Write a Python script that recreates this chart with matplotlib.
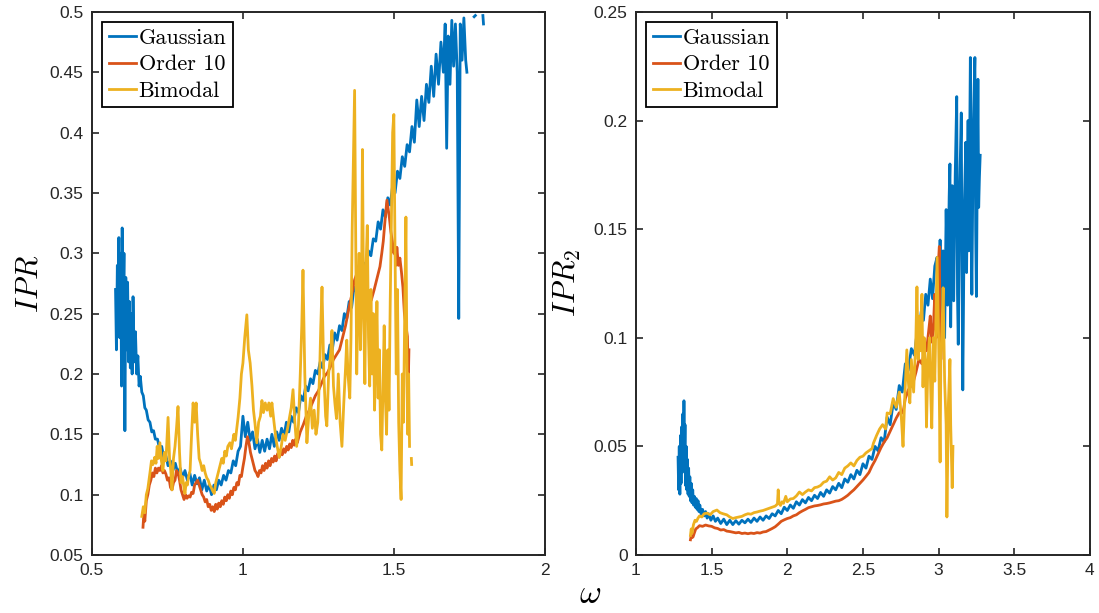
import numpy as np
import matplotlib
matplotlib.use('Agg')
import matplotlib.pyplot as plt

# ---- left panel (IPR) ----
gauss_l_x = [0.578, 0.581, 0.584, 0.586, 0.589, 0.592, 0.595, 0.598, 0.600, 0.603, 0.606, 0.609,
             0.612, 0.615, 0.618, 0.621, 0.624, 0.627, 0.630, 0.633, 0.636, 0.640, 0.644, 0.648,
             0.652, 0.656, 0.660, 0.665, 0.670, 0.675, 0.680, 0.686, 0.692, 0.698, 0.704, 0.710,
             0.717, 0.724, 0.731, 0.738, 0.745, 0.752, 0.760, 0.768, 0.776, 0.784, 0.792, 0.800,
             0.808, 0.816, 0.824, 0.832, 0.840, 0.848, 0.856, 0.864, 0.872, 0.880, 0.888, 0.896,
             0.904, 0.912, 0.920, 0.928, 0.936, 0.944, 0.952, 0.960, 0.968, 0.976, 0.984, 0.992,
             1.000, 1.008, 1.016, 1.024, 1.032, 1.040, 1.048, 1.056, 1.064, 1.072, 1.080, 1.088,
             1.096, 1.104, 1.112, 1.120, 1.128, 1.136, 1.144, 1.152, 1.160, 1.168, 1.176, 1.184,
             1.192, 1.200, 1.208, 1.216, 1.224, 1.232, 1.240, 1.248, 1.256, 1.264, 1.272, 1.280,
             1.288, 1.296, 1.304, 1.312, 1.320, 1.328, 1.336, 1.344, 1.352, 1.360, 1.368, 1.376,
             1.384, 1.392, 1.400, 1.408, 1.416, 1.424, 1.432, 1.440, 1.448, 1.456, 1.464, 1.472,
             1.480, 1.488, 1.496, 1.504, 1.512, 1.520, 1.528, 1.536, 1.544, 1.552, 1.560, 1.568,
             1.576, 1.584, 1.592, 1.600, 1.608, 1.616, 1.624, 1.632, 1.640, 1.648, 1.656, 1.664,
             1.670, 1.675, 1.680, 1.686, 1.692, 1.698, 1.704, 1.710, 1.715, 1.720, 1.726, 1.732,
             1.738, 1.742, 1.755, 1.766, 1.770, 1.780, 1.795, 1.797]
gauss_l_y = [0.270, 0.220, 0.290, 0.240, 0.313, 0.230, 0.300, 0.190, 0.321, 0.250, 0.300, 0.153,
             0.280, 0.220, 0.276, 0.210, 0.260, 0.205, 0.250, 0.200, 0.264, 0.210, 0.235, 0.200,
             0.215, 0.190, 0.198, 0.185, 0.182, 0.172, 0.170, 0.162, 0.160, 0.152, 0.153, 0.146,
             0.146, 0.138, 0.140, 0.130, 0.132, 0.124, 0.128, 0.120, 0.126, 0.118, 0.122, 0.114,
             0.120, 0.112, 0.118, 0.108, 0.116, 0.109, 0.114, 0.104, 0.112, 0.103, 0.108, 0.100,
             0.108, 0.104, 0.112, 0.108, 0.116, 0.112, 0.120, 0.118, 0.128, 0.124, 0.136, 0.140,
             0.165, 0.148, 0.160, 0.145, 0.152, 0.138, 0.146, 0.135, 0.145, 0.136, 0.146, 0.138,
             0.150, 0.140, 0.152, 0.145, 0.155, 0.148, 0.160, 0.152, 0.165, 0.160, 0.172, 0.168,
             0.182, 0.178, 0.190, 0.186, 0.196, 0.192, 0.203, 0.200, 0.210, 0.205, 0.216, 0.212,
             0.224, 0.220, 0.234, 0.228, 0.240, 0.236, 0.250, 0.246, 0.260, 0.255, 0.272, 0.268,
             0.282, 0.278, 0.292, 0.288, 0.302, 0.298, 0.312, 0.310, 0.326, 0.320, 0.336, 0.330,
             0.346, 0.340, 0.356, 0.350, 0.368, 0.362, 0.380, 0.372, 0.390, 0.384, 0.405, 0.392,
             0.427, 0.405, 0.430, 0.410, 0.440, 0.425, 0.455, 0.430, 0.465, 0.440, 0.475, 0.450,
             0.490, 0.387, 0.480, 0.440, 0.493, 0.455, 0.490, 0.450, 0.246, 0.490, 0.460, 0.495,
             0.460, 0.450, np.nan, 0.496, 0.497, np.nan, 0.497, 0.490]

order_l_x = [0.669, 0.672, 0.675, 0.680, 0.685, 0.690, 0.695, 0.700, 0.705, 0.710, 0.715, 0.720,
             0.725, 0.730, 0.735, 0.740, 0.745, 0.750, 0.755, 0.760, 0.765, 0.770, 0.775, 0.780,
             0.785, 0.790, 0.795, 0.800, 0.805, 0.810, 0.815, 0.820, 0.825, 0.830, 0.835, 0.840,
             0.845, 0.850, 0.855, 0.860, 0.865, 0.870, 0.875, 0.880, 0.885, 0.890, 0.895, 0.900,
             0.905, 0.910, 0.915, 0.920, 0.925, 0.930, 0.935, 0.940, 0.945, 0.950, 0.955, 0.960,
             0.965, 0.970, 0.975, 0.980, 0.985, 0.990, 0.995, 1.000, 1.005, 1.010, 1.015, 1.020,
             1.025, 1.030, 1.035, 1.040, 1.045, 1.050, 1.055, 1.060, 1.065, 1.070, 1.075, 1.080,
             1.085, 1.090, 1.095, 1.100, 1.105, 1.110, 1.115, 1.120, 1.125, 1.130, 1.135, 1.140,
             1.145, 1.150, 1.155, 1.160, 1.165, 1.170, 1.175, 1.180, 1.190, 1.200, 1.210, 1.220,
             1.230, 1.240, 1.250, 1.260, 1.270, 1.280, 1.290, 1.300, 1.310, 1.320, 1.330, 1.340,
             1.350, 1.360, 1.370, 1.380, 1.387, 1.395, 1.405, 1.415, 1.425, 1.435, 1.445, 1.454,
             1.460, 1.465, 1.470, 1.477, 1.485, 1.490, 1.495, 1.500, 1.503, 1.507, 1.510, 1.515,
             1.520, 1.525, 1.530, 1.535, 1.540, 1.545, 1.548, 1.550]
order_l_y = [0.073, 0.085, 0.078, 0.095, 0.100, 0.108, 0.112, 0.118, 0.115, 0.122, 0.118, 0.122,
             0.120, 0.124, 0.118, 0.120, 0.117, 0.112, 0.114, 0.106, 0.104, 0.110, 0.112, 0.120,
             0.118, 0.112, 0.104, 0.100, 0.096, 0.100, 0.097, 0.099, 0.098, 0.102, 0.101, 0.108,
             0.110, 0.112, 0.108, 0.104, 0.100, 0.098, 0.094, 0.096, 0.090, 0.092, 0.087, 0.090,
             0.086, 0.092, 0.088, 0.093, 0.090, 0.095, 0.092, 0.098, 0.095, 0.100, 0.097, 0.103,
             0.100, 0.106, 0.104, 0.110, 0.108, 0.116, 0.115, 0.123, 0.130, 0.140, 0.148, 0.143,
             0.135, 0.130, 0.125, 0.120, 0.118, 0.115, 0.120, 0.118, 0.124, 0.120, 0.126, 0.122,
             0.128, 0.124, 0.130, 0.127, 0.132, 0.128, 0.134, 0.131, 0.137, 0.133, 0.138, 0.135,
             0.140, 0.137, 0.142, 0.139, 0.145, 0.141, 0.146, 0.143, 0.152, 0.158, 0.165, 0.170,
             0.176, 0.182, 0.186, 0.192, 0.198, 0.201, 0.206, 0.212, 0.216, 0.220, 0.230, 0.240,
             0.253, 0.265, 0.278, 0.285, 0.292, 0.275, 0.262, 0.268, 0.261, 0.270, 0.280, 0.289,
             0.300, 0.310, 0.325, 0.344, 0.330, 0.318, 0.310, 0.300, 0.305, 0.290, 0.305, 0.290,
             0.296, 0.285, 0.272, 0.250, 0.240, 0.231, 0.195, 0.220]

bimodal_l_x = [0.665, 0.670, 0.675, 0.680, 0.685, 0.692, 0.697, 0.702, 0.708, 0.712, 0.716, 0.720,
               0.725, 0.730, 0.735, 0.740, 0.745, 0.752, 0.757, 0.761, 0.765, 0.770, 0.775, 0.780,
               0.785, 0.790, 0.795, 0.800, 0.805, 0.808, 0.812, 0.816, 0.820, 0.825, 0.830, 0.835,
               0.840, 0.845, 0.850, 0.855, 0.860, 0.865, 0.870, 0.875, 0.880, 0.885, 0.890, 0.895,
               0.900, 0.905, 0.910, 0.915, 0.920, 0.925, 0.930, 0.935, 0.940, 0.945, 0.950, 0.957,
               0.962, 0.970, 0.975, 0.984, 0.990, 0.995, 1.000, 1.006, 1.013, 1.018, 1.024, 1.030,
               1.035, 1.040, 1.046, 1.052, 1.058, 1.063, 1.068, 1.074, 1.080, 1.086, 1.092, 1.096,
               1.103, 1.110, 1.115, 1.120, 1.127, 1.133, 1.140, 1.148, 1.155, 1.160, 1.166, 1.172,
               1.178, 1.184, 1.190, 1.195, 1.199, 1.205, 1.212, 1.218, 1.224, 1.230, 1.236, 1.242,
               1.248, 1.254, 1.258, 1.262, 1.268, 1.274, 1.278, 1.284, 1.290, 1.295, 1.300, 1.305,
               1.310, 1.316, 1.322, 1.328, 1.334, 1.340, 1.344, 1.348, 1.354, 1.358, 1.362, 1.366,
               1.370, 1.374, 1.377, 1.381, 1.385, 1.389, 1.393, 1.396, 1.400, 1.404, 1.408, 1.412,
               1.416, 1.420, 1.424, 1.428, 1.432, 1.436, 1.440, 1.444, 1.448, 1.452, 1.456, 1.460,
               1.464, 1.468, 1.472, 1.476, 1.480, 1.484, 1.488, 1.492, 1.496, 1.500, 1.504, 1.508,
               1.512, 1.516, 1.520, 1.524, 1.528, 1.532, 1.536, 1.540, 1.543, 1.546, 1.549, 1.552,
               1.555, 1.558, 1.559]
bimodal_l_y = [0.082, 0.090, 0.085, 0.100, 0.105, 0.118, 0.128, 0.125, 0.131, 0.126, 0.140, 0.130,
               0.143, 0.128, 0.120, 0.135, 0.128, 0.164, 0.130, 0.120, 0.104, 0.130, 0.140, 0.155,
               0.173, 0.135, 0.110, 0.115, 0.105, 0.101, 0.110, 0.108, 0.115, 0.120, 0.150, 0.176,
               0.160, 0.176, 0.150, 0.130, 0.126, 0.120, 0.124, 0.118, 0.114, 0.112, 0.108, 0.106,
               0.103, 0.101, 0.110, 0.115, 0.120, 0.125, 0.130, 0.126, 0.136, 0.132, 0.140, 0.143,
               0.138, 0.150, 0.145, 0.164, 0.180, 0.200, 0.209, 0.230, 0.249, 0.220, 0.209, 0.190,
               0.170, 0.159, 0.143, 0.160, 0.165, 0.178, 0.168, 0.176, 0.170, 0.176, 0.165, 0.176,
               0.160, 0.145, 0.138, 0.131, 0.140, 0.150, 0.145, 0.155, 0.165, 0.172, 0.187, 0.160,
               0.140, 0.158, 0.200, 0.240, 0.286, 0.200, 0.143, 0.165, 0.180, 0.155, 0.170, 0.150,
               0.160, 0.200, 0.240, 0.272, 0.200, 0.165, 0.157, 0.200, 0.215, 0.236, 0.190, 0.175,
               0.163, 0.200, 0.160, 0.140, 0.175, 0.205, 0.228, 0.200, 0.180, 0.230, 0.320, 0.380,
               0.435, 0.300, 0.200, 0.260, 0.300, 0.220, 0.270, 0.386, 0.250, 0.192, 0.290, 0.323,
               0.230, 0.190, 0.270, 0.200, 0.250, 0.170, 0.210, 0.260, 0.180, 0.220, 0.150, 0.137,
               0.190, 0.240, 0.180, 0.150, 0.220, 0.170, 0.260, 0.330, 0.400, 0.415, 0.300, 0.200,
               0.270, 0.160, 0.120, 0.096, 0.200, 0.160, 0.250, 0.330, 0.220, 0.150, 0.200, 0.140,
               np.nan, 0.130, 0.125]

# ---- right panel (IPR_2) ----
gauss_r_x = [1.278, 1.282, 1.286, 1.290, 1.294, 1.298, 1.302, 1.306, 1.310, 1.314, 1.317, 1.320,
             1.324, 1.328, 1.332, 1.336, 1.340, 1.344, 1.348, 1.352, 1.356, 1.360, 1.365, 1.370,
             1.375, 1.380, 1.386, 1.392, 1.398, 1.404, 1.410, 1.416, 1.422, 1.430, 1.440, 1.450,
             1.460, 1.470, 1.480, 1.495, 1.510, 1.525, 1.540, 1.560, 1.580, 1.600, 1.620, 1.640,
             1.660, 1.680, 1.700, 1.720, 1.740, 1.760, 1.780, 1.800, 1.820, 1.840, 1.860, 1.880,
             1.900, 1.920, 1.940, 1.960, 1.980, 2.000, 2.020, 2.040, 2.060, 2.080, 2.100, 2.120,
             2.140, 2.160, 2.180, 2.200, 2.220, 2.240, 2.260, 2.280, 2.300, 2.320, 2.340, 2.360,
             2.380, 2.400, 2.420, 2.440, 2.460, 2.480, 2.500, 2.520, 2.540, 2.560, 2.580, 2.600,
             2.620, 2.640, 2.660, 2.680, 2.700, 2.720, 2.740, 2.760, 2.780, 2.800, 2.820, 2.840,
             2.857, 2.870, 2.885, 2.900, 2.915, 2.930, 2.945, 2.960, 2.975, 2.990, 3.000, 3.010,
             3.020, 3.030, 3.040, 3.050, 3.060, 3.070, 3.075, 3.080, 3.090, 3.100, 3.110, 3.120,
             3.125, 3.130, 3.140, 3.150, 3.155, 3.160, 3.170, 3.180, 3.185, 3.195, 3.200, 3.210,
             3.215, 3.220, 3.230, 3.240, 3.245, 3.250, 3.255, 3.260, 3.265, 3.270, 3.275]
gauss_r_y = [0.045, 0.030, 0.050, 0.028, 0.055, 0.033, 0.059, 0.038, 0.065, 0.040, 0.071, 0.042,
             0.060, 0.032, 0.050, 0.030, 0.044, 0.028, 0.040, 0.027, 0.036, 0.025, 0.033, 0.024,
             0.030, 0.023, 0.027, 0.022, 0.026, 0.021, 0.025, 0.020, 0.023, 0.019, 0.021, 0.018,
             0.020, 0.017, 0.019, 0.016, 0.018, 0.0155, 0.017, 0.0145, 0.0165, 0.014, 0.016, 0.014,
             0.0158, 0.0142, 0.016, 0.0148, 0.0165, 0.015, 0.017, 0.0155, 0.0175, 0.016, 0.018, 0.0168,
             0.019, 0.018, 0.0205, 0.019, 0.022, 0.0205, 0.023, 0.0215, 0.0245, 0.023, 0.0255, 0.024,
             0.0265, 0.025, 0.0275, 0.026, 0.0288, 0.027, 0.030, 0.0285, 0.0315, 0.030, 0.033, 0.031,
             0.035, 0.0335, 0.037, 0.035, 0.039, 0.037, 0.042, 0.040, 0.0455, 0.044, 0.050, 0.048,
             0.054, 0.052, 0.0635, 0.060, 0.070, 0.067, 0.078, 0.075, 0.088, 0.085, 0.095, 0.092,
             0.102, 0.100, 0.112, 0.108, 0.120, 0.115, 0.127, 0.118, 0.133, 0.137, 0.120, 0.145,
             0.110, 0.140, 0.100, 0.159, 0.115, 0.165, 0.180, 0.105, 0.170, 0.117, 0.175, 0.211,
             0.120, 0.097, 0.170, 0.2035, 0.130, 0.076, 0.160, 0.190, 0.130, 0.200, 0.140, 0.229,
             0.150, 0.120, 0.200, 0.229, 0.150, 0.119, 0.170, 0.219, 0.160, 0.174, 0.184]

order_r_x = [1.360, 1.365, 1.370, 1.377, 1.385, 1.395, 1.405, 1.420, 1.440, 1.460, 1.480, 1.500,
             1.520, 1.540, 1.560, 1.580, 1.600, 1.620, 1.640, 1.660, 1.680, 1.700, 1.720, 1.740,
             1.760, 1.780, 1.800, 1.820, 1.840, 1.860, 1.880, 1.900, 1.920, 1.940, 1.960, 1.980,
             2.000, 2.020, 2.040, 2.060, 2.080, 2.100, 2.120, 2.140, 2.160, 2.180, 2.200, 2.220,
             2.240, 2.260, 2.280, 2.300, 2.320, 2.340, 2.360, 2.380, 2.400, 2.420, 2.440, 2.460,
             2.480, 2.500, 2.520, 2.540, 2.560, 2.580, 2.600, 2.620, 2.640, 2.660, 2.680, 2.700,
             2.720, 2.740, 2.765, 2.780, 2.800, 2.830, 2.850, 2.870, 2.890, 2.910, 2.920, 2.935,
             2.945, 2.955, 2.965, 2.975, 2.985, 2.995, 3.005, 3.010, 3.015, 3.020]
order_r_y = [0.007, 0.009, 0.008, 0.0083, 0.010, 0.012, 0.0125, 0.0135, 0.0132, 0.0138, 0.0134, 0.0132,
             0.0125, 0.0122, 0.0115, 0.0117, 0.011, 0.0108, 0.0105, 0.0102, 0.0104, 0.0099, 0.0101, 0.0098,
             0.0101, 0.0099, 0.0103, 0.0101, 0.0106, 0.0108, 0.0115, 0.0122, 0.013, 0.0142, 0.0155, 0.0162,
             0.0168, 0.0172, 0.018, 0.0185, 0.0195, 0.0203, 0.021, 0.0218, 0.0222, 0.0226, 0.0228, 0.0231,
             0.0235, 0.0237, 0.024, 0.0244, 0.0248, 0.025, 0.0256, 0.0265, 0.0275, 0.0288, 0.030, 0.0315,
             0.033, 0.0345, 0.0362, 0.038, 0.041, 0.0435, 0.0465, 0.0495, 0.052, 0.054, 0.057, 0.060,
             0.063, 0.0655, 0.0654, 0.072, 0.076, 0.079, 0.084, 0.090, 0.088, 0.095, 0.094, 0.1034,
             0.110, 0.098, 0.104, 0.120, 0.100, 0.130, 0.142, 0.100, 0.090, 0.099]

bimodal_r_x = [1.360, 1.365, 1.370, 1.380, 1.390, 1.400, 1.410, 1.420, 1.435, 1.450, 1.470, 1.490,
               1.510, 1.535, 1.555, 1.575, 1.600, 1.620, 1.640, 1.660, 1.680, 1.700, 1.720, 1.740,
               1.760, 1.780, 1.800, 1.820, 1.840, 1.860, 1.880, 1.900, 1.920, 1.935, 1.940, 1.945,
               1.955, 1.965, 1.975, 1.990, 2.000, 2.020, 2.040, 2.060, 2.080, 2.100, 2.120, 2.140,
               2.160, 2.180, 2.200, 2.220, 2.240, 2.260, 2.280, 2.300, 2.320, 2.340, 2.360, 2.380,
               2.400, 2.420, 2.440, 2.460, 2.480, 2.500, 2.520, 2.540, 2.560, 2.570, 2.590, 2.610,
               2.630, 2.650, 2.660, 2.680, 2.700, 2.720, 2.740, 2.755, 2.765, 2.775, 2.790, 2.800,
               2.810, 2.820, 2.835, 2.850, 2.857, 2.865, 2.875, 2.880, 2.890, 2.897, 2.905, 2.915,
               2.920, 2.930, 2.940, 2.950, 2.955, 2.965, 2.975, 2.990, 3.000, 3.010, 3.015, 3.025,
               3.030, 3.040, 3.050, 3.055, 3.065, 3.075, 3.080, 3.090, 3.095]
bimodal_r_y = [0.009, 0.012, 0.010, 0.014, 0.016, 0.0155, 0.017, 0.018, 0.0175, 0.019, 0.0193, 0.0185,
               0.020, 0.0207, 0.0195, 0.019, 0.0185, 0.0175, 0.0168, 0.0172, 0.0175, 0.0178, 0.0185, 0.019,
               0.0188, 0.0195, 0.0198, 0.0202, 0.0205, 0.021, 0.0215, 0.022, 0.0225, 0.0235, 0.030, 0.024,
               0.0228, 0.0245, 0.0238, 0.027, 0.0245, 0.0258, 0.026, 0.0272, 0.029, 0.0278, 0.029, 0.030,
               0.0295, 0.031, 0.0313, 0.032, 0.0335, 0.034, 0.036, 0.0345, 0.0355, 0.038, 0.037, 0.040,
               0.041, 0.0424, 0.041, 0.0435, 0.045, 0.0455, 0.047, 0.048, 0.049, 0.0516, 0.055, 0.058,
               0.060, 0.058, 0.0654, 0.065, 0.072, 0.068, 0.075, 0.062, 0.050, 0.070, 0.0944, 0.080,
               0.070, 0.090, 0.075, 0.100, 0.1234, 0.090, 0.110, 0.094, 0.120, 0.0774, 0.100, 0.085,
               0.0589, 0.090, 0.100, 0.070, 0.0585, 0.100, 0.080, 0.137, 0.100, 0.0428, 0.090, 0.110,
               0.123, 0.080, 0.060, 0.0175, 0.070, 0.090, 0.060, 0.031, 0.050]

labels = ['Gaussian', 'Order 10', 'Bimodal']
colors = ['#0072BD', '#D95319', '#EDB120']

plt.rcParams['font.family'] = ['Liberation Sans', 'DejaVu Sans']
plt.rcParams['mathtext.fontset'] = 'cm'

fig = plt.figure(figsize=(10.99, 6.13), dpi=100)
ax1 = fig.add_axes([0.0837, 0.0946, 0.412, 0.886])
ax2 = fig.add_axes([0.5787, 0.0946, 0.413, 0.886])

left = [(gauss_l_x, gauss_l_y), (order_l_x, order_l_y), (bimodal_l_x, bimodal_l_y)]
right = [(gauss_r_x, gauss_r_y), (order_r_x, order_r_y), (bimodal_r_x, bimodal_r_y)]

for ax, series in [(ax1, left), (ax2, right)]:
    for (x, y), lab, c in zip(series, labels, colors):
        ax.plot(x, y, color=c, lw=2.0, label=lab)
    leg = ax.legend(loc='upper left', prop={'family': 'cmr10', 'size': 16},
                    handlelength=1.25, handletextpad=0.1, borderaxespad=0.45,
                    borderpad=0.3, labelspacing=0.3, fancybox=False, framealpha=1)
    leg.get_frame().set_edgecolor('black')
    leg.get_frame().set_linewidth(1.3)
    ax.tick_params(direction='in', top=True, right=True, length=5, width=1.2,
                   labelsize=12.5, colors='#262626', pad=6)
    for s in ax.spines.values():
        s.set_linewidth(1.4)
        s.set_color('#262626')

ax1.set_xlim(0.5, 2)
ax1.set_ylim(0.05, 0.5)
ax1.set_xticks([0.5, 1, 1.5, 2])
ax1.set_xticklabels(['0.5', '1', '1.5', '2'])
ax1.set_yticks([0.05, 0.1, 0.15, 0.2, 0.25, 0.3, 0.35, 0.4, 0.45, 0.5])
ax1.set_yticklabels(['0.05', '0.1', '0.15', '0.2', '0.25', '0.3', '0.35', '0.4', '0.45', '0.5'])
ax1.set_ylabel(r'$IPR$', fontsize=22, labelpad=4)

ax2.set_xlim(1, 4)
ax2.set_ylim(0, 0.25)
ax2.set_xticks([1, 1.5, 2, 2.5, 3, 3.5, 4])
ax2.set_xticklabels(['1', '1.5', '2', '2.5', '3', '3.5', '4'])
ax2.set_yticks([0, 0.05, 0.1, 0.15, 0.2, 0.25])
ax2.set_yticklabels(['0', '0.05', '0.1', '0.15', '0.2', '0.25'])
ax2.set_ylabel(r'$IPR_2$', fontsize=22, labelpad=8)

fig.text(0.537, 0.005, r'$\omega$', fontsize=24, ha='center', va='bottom')

fig.savefig('out.png', dpi=100)
